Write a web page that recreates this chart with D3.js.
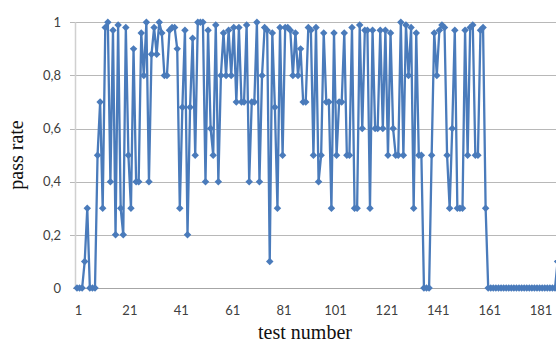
<!DOCTYPE html>
<html><head><meta charset="utf-8">
<script src="https://cdn.jsdelivr.net/npm/d3@7/dist/d3.min.js"></script>
<style>body{margin:0;background:#fff;overflow:hidden}svg{display:block}</style>
</head><body>
<svg id="c" width="556" height="343"></svg>
<script>
// pass rate per test number (1..188)
const passRate = [
0,0,0,0.1,0.3,0,0,0,0.5,0.7,
0.3,0.98,1.0,0.4,0.97,0.2,0.99,0.3,0.2,0.98,
0.5,0.3,0.9,0.4,0.4,0.96,0.8,1.0,0.4,0.88,
0.98,0.88,1.0,0.96,0.8,0.8,0.97,0.98,0.98,0.9,
0.3,0.68,0.97,0.2,0.68,0.94,0.5,1.0,1.0,1.0,
0.4,0.97,0.6,0.5,0.99,0.4,0.8,0.96,0.8,0.97,
0.8,0.98,0.7,0.98,0.7,0.7,0.99,0.4,0.7,0.7,
1.0,0.4,0.8,0.98,0.97,0.1,0.96,0.68,0.3,0.98,
0.5,0.98,0.98,0.97,0.8,0.96,0.8,0.9,0.7,0.7,
0.98,0.97,0.5,0.98,0.4,0.5,0.96,0.7,0.7,0.3,
0.96,0.5,0.7,0.7,0.96,0.5,0.5,0.98,0.3,0.3,
0.99,0.6,0.97,0.97,0.3,0.97,0.6,0.6,0.97,0.6,
0.97,0.5,0.96,0.6,0.5,0.5,1.0,0.5,0.99,0.8,
0.98,0.3,0.96,0.5,0.5,0,0,0,0.5,0.96,
0.8,0.97,0.99,0.98,0.5,0.3,0.6,0.97,0.3,0.3,
0.3,0.97,0.5,0.98,0.99,0.5,0.5,0.97,0.98,0.3,
0,0,0,0,0,0,0,0,0,0,
0,0,0,0,0,0,0,0,0,0,
0,0,0,0,0,0,0,0.1
];
const testNumbers = passRate.map((d,i)=>i+1);
const xTicks = [1,21,41,61,81,101,121,141,161,181];
const yTicks = [0,0.2,0.4,0.6,0.8,1];
const yTickLabels = ["0","0,2","0,4","0,6","0,8","1"];

const svg = d3.select("#c");
const plotLeft = 75, plotRight = 556;
const x = d3.scaleLinear().domain([1,181]).range([77,539.6]);
const y = d3.scaleLinear().domain([0,1]).range([288,22.3]);
const color = "#4a7bbb";
const serif = "'Liberation Serif','Times New Roman',serif";
const sans = "Lato,'Liberation Sans',sans-serif";

// gridlines
svg.append("g").selectAll("line").data(yTicks).join("line")
  .attr("x1",d=>d===0?73:70).attr("x2",plotRight)
  .attr("y1",d=>Math.round(y(d))+0.5).attr("y2",d=>Math.round(y(d))+0.5)
  .attr("stroke",d=>d===0?"#a6a6a6":"#b8b8b8").attr("stroke-width",1);
// left axis line
svg.append("line").attr("x1",plotLeft+0.5).attr("x2",plotLeft+0.5)
  .attr("y1",y(1)).attr("y2",y(0)).attr("stroke","#d0d0d0").attr("stroke-width",1.5);

// y tick labels
const yAxis = d3.axisLeft(y).tickValues(yTicks)
  .tickFormat((d,i)=>yTickLabels[i]).tickSize(0).tickPadding(0);
const gy = svg.append("g").attr("transform","translate(61,0)").call(yAxis);
gy.attr("font-family",sans).attr("font-size",13);
gy.select(".domain").remove();
gy.selectAll("text").style("font-family",sans).style("font-size","13px").attr("fill","#404040");

// x tick labels
const xAxis = d3.axisBottom(x).tickValues(xTicks).tickFormat(d3.format("d")).tickSize(0).tickPadding(0);
const gx = svg.append("g").attr("transform","translate(1,306)").call(xAxis);
gx.attr("font-family",sans).attr("font-size",13);
gx.select(".domain").remove();
gx.selectAll("text").style("font-family",sans).style("font-size","13px").attr("fill","#404040");

// line
const line = d3.line().x((d,i)=>x(testNumbers[i])).y(d=>y(d));
svg.append("path").datum(passRate).attr("d",line)
  .attr("fill","none").attr("stroke",color).attr("stroke-width",2.3).attr("stroke-linejoin","round");

// diamond markers
const sym = d3.symbol().type(d3.symbolSquare).size(28);
svg.append("g").selectAll("path").data(passRate).join("path")
  .attr("d",sym)
  .attr("transform",(d,i)=>`translate(${x(testNumbers[i])},${y(d)}) rotate(45)`)
  .attr("fill",color);

// axis titles
svg.append("text").attr("x",305).attr("y",339).attr("text-anchor","middle")
  .style("font-family",serif).style("font-size","20px").attr("fill","#111").text("test number");
svg.append("text").attr("transform","translate(23,155) rotate(-90)").attr("text-anchor","middle")
  .style("font-family",serif).style("font-size","20px").attr("fill","#111").text("pass rate");
</script>
</body></html>
